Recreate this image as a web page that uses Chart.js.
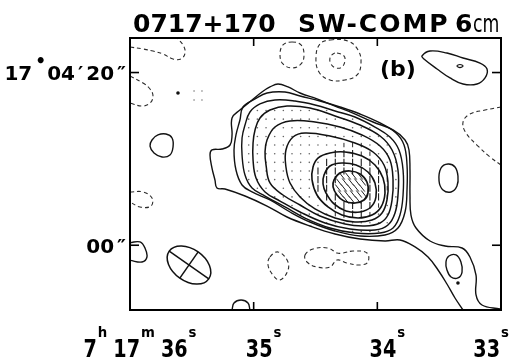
<!DOCTYPE html>
<html>
<head>
<meta charset="utf-8">
<title>0717+170 SW-COMP 6cm</title>
<script src="https://cdn.jsdelivr.net/npm/chart.js@4.4.1/dist/chart.umd.min.js"></script>
<style>
  html, body { margin: 0; padding: 0; background: #fff; }
  #box { width: 511px; height: 362px; }
  canvas { display: block; }
</style>
</head>
<body>
<div id="box"><canvas id="map" width="511" height="362"></canvas></div>
<script>
// x: right ascension, seconds of 7h17m (east to the left)
// y: declination offset in arcsec from 17°04'00"
const raRange = [33, 36];
const decRange = [-7.5, 24];
const raTicks = [36, 35, 34, 33];
const decTicks = [20, 0];
const raTickLabels = [
  [['7', 'n'], ['h', 's'], ['17', 'n'], ['m', 's'], ['36', 'n'], ['s', 's']],
  [['35', 'n'], ['s', 's']],
  [['34', 'n'], ['s', 's']],
  [['33', 'n'], ['s', 's']]
];
const decTickLabels = [
  [['17', 'y'], ['•', 'deg'], ['04', 'y'], ['′', 'y'], ['20', 'y'], ['″', 'y']],
  [['00', 'y'], ['″', 'y']]
];

// positive contours of the source, lowest level first
const level1 = [[33.307,-7.50],[33.372,-6.11],[33.437,-4.49],[33.509,-2.87],[33.590,-1.36],[33.695,-0.20],[33.817,0.61],[33.938,0.49],[34.140,0.72],[34.342,1.30],[34.545,2.23],[34.730,3.27],[34.892,4.54],[35.070,5.70],[35.232,6.51],[35.297,6.63],[35.313,7.56],[35.337,8.94],[35.353,10.45],[35.337,11.03],[35.256,11.14],[35.191,11.61],[35.175,12.77],[35.175,14.74],[35.111,15.66],[35.013,16.82],[34.933,17.75],[34.868,18.33],[34.803,18.67],[34.722,18.33],[34.625,17.63],[34.488,16.94],[34.342,16.12],[34.197,15.31],[34.035,14.27],[33.873,13.35],[33.776,12.19],[33.744,11.03],[33.736,8.71],[33.736,5.82],[33.728,3.50],[33.687,2.00],[33.574,0.49],[33.453,-0.09],[33.315,-0.32],[33.251,-1.36],[33.202,-3.45],[33.202,-5.76],[33.154,-6.92],[33.008,-7.38]];
const level2 = [[35.111,14.50],[35.086,16.01],[34.989,16.94],[34.892,17.63],[34.747,17.75],[34.625,17.28],[34.464,16.70],[34.302,16.01],[34.140,15.20],[33.978,14.16],[33.849,13.00],[33.784,11.61],[33.760,9.29],[33.760,6.40],[33.776,3.85],[33.833,2.00],[33.938,1.19],[34.140,1.07],[34.342,1.65],[34.545,2.69],[34.706,3.85],[34.868,5.24],[35.013,6.17],[35.094,6.98],[35.143,8.71],[35.159,11.03],[35.143,12.77]];
const level3 = [[35.070,13.92],[35.030,15.43],[34.949,16.36],[34.828,16.82],[34.666,16.70],[34.504,16.24],[34.342,15.55],[34.181,14.85],[34.019,13.69],[33.898,12.53],[33.825,11.03],[33.792,8.71],[33.792,5.82],[33.817,3.50],[33.873,2.00],[33.978,1.42],[34.181,1.42],[34.383,2.00],[34.585,3.15],[34.747,4.43],[34.908,5.70],[35.013,6.63],[35.070,8.13],[35.094,10.45],[35.094,12.42]];
const level4 = [[34.989,13.35],[34.949,14.74],[34.868,15.66],[34.730,16.12],[34.545,15.89],[34.342,14.97],[34.140,13.92],[33.978,12.65],[33.881,11.03],[33.833,8.71],[33.833,5.82],[33.857,3.73],[33.914,2.34],[34.019,1.77],[34.221,1.88],[34.423,2.58],[34.625,3.85],[34.787,5.12],[34.908,6.17],[34.981,7.79],[35.005,9.87],[35.005,11.84]];
const level5 = [[34.892,12.19],[34.828,13.69],[34.706,14.39],[34.504,14.27],[34.302,13.69],[34.124,12.77],[33.978,11.49],[33.898,9.87],[33.873,7.56],[33.881,5.24],[33.914,3.50],[33.978,2.58],[34.100,2.23],[34.262,2.46],[34.464,3.39],[34.625,4.66],[34.763,5.82],[34.868,7.21],[34.900,9.29],[34.908,10.80]];
const level6 = [[34.739,11.03],[34.682,12.53],[34.585,13.00],[34.383,12.65],[34.181,11.84],[34.035,10.80],[33.946,9.29],[33.914,7.32],[33.922,5.24],[33.962,3.73],[34.043,2.92],[34.181,2.69],[34.342,3.15],[34.504,4.20],[34.625,5.59],[34.706,7.21],[34.739,9.06]];
const level7 = [[34.520,9.06],[34.480,10.10],[34.383,10.68],[34.262,10.80],[34.124,10.33],[34.019,9.29],[33.954,7.79],[33.938,6.05],[33.970,4.43],[34.043,3.50],[34.156,3.15],[34.286,3.50],[34.399,4.43],[34.488,5.82],[34.528,7.56]];
const level8 = [[34.431,8.13],[34.383,9.18],[34.286,9.52],[34.172,9.29],[34.076,8.48],[34.019,7.21],[34.011,5.59],[34.051,4.43],[34.140,3.85],[34.253,3.97],[34.350,4.78],[34.415,6.05],[34.439,7.09]];
const level9 = [[34.350,7.56],[34.302,8.37],[34.221,8.60],[34.140,8.25],[34.084,7.32],[34.076,6.05],[34.108,5.24],[34.181,4.89],[34.270,5.12],[34.326,5.82],[34.358,6.75]];

// isolated positive islands
const tailIsland = [[33.421,-1.25],[33.364,-1.13],[33.324,-1.94],[33.315,-3.10],[33.348,-3.79],[33.404,-3.68],[33.437,-2.87],[33.445,-1.94]];
const eastIsland = [[33.485,8.94],[33.428,9.41],[33.372,9.06],[33.348,8.02],[33.356,6.86],[33.404,6.17],[33.469,6.40],[33.501,7.44]];
const northEastIsland = [[33.639,21.92],[33.574,22.49],[33.437,22.26],[33.307,21.68],[33.170,21.10],[33.113,20.41],[33.129,19.37],[33.194,18.67],[33.307,18.67],[33.412,19.37],[33.517,20.41],[33.623,21.57]];
const northEastPeak = [[33.356,20.76],[33.332,20.93],[33.307,20.76],[33.332,20.58]];
const westIsland = [[35.822,12.19],[35.774,12.77],[35.709,12.88],[35.660,12.42],[35.652,11.38],[35.677,10.45],[35.741,10.22],[35.806,10.68],[35.838,11.49]];
const westEdge = [[36.0,0.30],[35.919,0.38],[35.879,-0.32],[35.863,-1.36],[35.903,-1.94],[36.0,-1.75]];
const southEdge = [[35.175,-7.50],[35.159,-6.69],[35.102,-6.34],[35.046,-6.69],[35.030,-7.50]];

// negative contours (dashed)
const negNorthWest = [[36.0,22.96],[35.895,22.73],[35.814,22.49],[35.733,22.15],[35.652,21.57],[35.588,21.57],[35.555,22.26],[35.571,23.19],[35.620,24.0]];
const negWest1 = [[36.0,19.60],[35.895,18.79],[35.838,18.09],[35.814,17.28],[35.838,16.47],[35.903,16.12],[36.0,16.47]];
const negWest2 = [[36.0,6.17],[35.895,6.17],[35.822,5.47],[35.830,4.54],[35.919,4.43],[36.0,5.01]];
const negNorth1 = [[34.690,23.54],[34.617,23.19],[34.593,22.03],[34.617,20.99],[34.690,20.53],[34.763,20.99],[34.787,22.03],[34.763,23.19]];
const negNorth2 = [[34.383,23.77],[34.237,23.65],[34.156,22.61],[34.132,21.10],[34.164,19.72],[34.262,19.14],[34.383,19.14],[34.472,20.06],[34.496,21.80],[34.464,23.31]];
const negNorth3 = [[34.326,22.26],[34.270,21.92],[34.262,21.34],[34.286,20.64],[34.334,20.53],[34.375,20.99],[34.383,21.68],[34.358,22.15]];
const negSouth1 = [[34.868,-1.36],[34.803,-0.78],[34.730,-1.71],[34.722,-2.87],[34.787,-4.03],[34.844,-3.45],[34.884,-2.29]];
const negSouth2 = [[34.585,-1.13],[34.520,-0.43],[34.399,-0.32],[34.326,-0.90],[34.278,-0.90],[34.197,-0.67],[34.084,-0.90],[34.076,-1.94],[34.140,-2.29],[34.245,-2.06],[34.326,-1.71],[34.383,-2.52],[34.488,-2.52],[34.569,-1.94]];
const negEast = [[33.0,16.01],[33.129,15.66],[33.251,15.20],[33.307,14.27],[33.283,13.00],[33.186,11.49],[33.089,10.22],[33.0,9.29]];

// polarization vectors on a 1" grid: '.' weak, 'i' medium, '|' strong (N-S)
const gridRA = [35.11,35.04,34.97,34.90,34.83,34.76,34.69,34.62,34.55,34.48,34.41,34.34,34.27,34.20,34.13,34.06,33.99,33.92,33.85];
const gridDec = [15.6,14.6,13.6,12.6,11.6,10.6,9.6,8.6,7.6,6.6,5.6,4.6,3.6,2.6,1.6];
const vectorMap = [
  "  .........        ",
  " .............     ",
  " ...............   ",
  " ................. ",
  " ...........iii... ",
  " ..........|||ii...",
  " .........||||||i..",
  " ........||||||||i.",
  " ........|||   ||i.",
  "  .......||    ||i.",
  "    ......||   ||i.",
  "      .....|||||i..",
  "       ....i|||i.. ",
  "          ........ ",
  "             ....  "
];
const strayDots = [[35.482,17.86],[35.418,17.86],[35.482,16.82],[35.418,16.82]];
const spots = [[35.612,17.63],[33.348,-4.37]];
// hatching inside the highest contour
const hatchMarks = [
  [34.286,8.02],[34.237,8.02],[34.189,8.02],[34.140,8.02],
  [34.310,7.32],[34.262,7.32],[34.213,7.32],[34.164,7.32],[34.116,7.32],
  [34.318,6.63],[34.270,6.63],[34.221,6.63],[34.172,6.63],[34.124,6.63],
  [34.294,5.93],[34.245,5.93],[34.197,5.93],[34.148,5.93],[34.108,5.93],
  [34.253,5.24],[34.205,5.24],[34.156,5.24]
];
// restoring beam: centre, FWHM axes in arcsec, position angle in degrees
const beamCentre = [35.523, -2.29];
const beamAxes = [5.6, 3.7];
const beamPA = 55;

const toXY = arr => arr.map(([x, y]) => ({ x, y }));

function contour(arr, closed, dashed, width) {
  return {
    data: toXY(arr), closed: closed, showLine: true, fill: false,
    borderColor: dashed ? '#2b2b2b' : '#121212',
    borderWidth: dashed ? 1.1 : (width || 1.4),
    borderDash: dashed ? [4, 3] : [],
    pointRadius: 0, pointHoverRadius: 0, tension: 0.4
  };
}
function marks(arr, style, radius, rotation, width, color) {
  return {
    data: toXY(arr), showLine: false, closed: false,
    pointStyle: style, pointRadius: radius, pointHoverRadius: radius,
    pointRotation: rotation, pointBorderWidth: width,
    pointBorderColor: color, pointBackgroundColor: color
  };
}

const vecLong = [], vecShort = [], vecDot = [];
vectorMap.forEach((row, r) => {
  [...row.padEnd(gridRA.length)].forEach((ch, c) => {
    const p = [gridRA[c], gridDec[r]];
    if (ch === '|') vecLong.push(p);
    else if (ch === 'i') vecShort.push(p);
    else if (ch === '.') vecDot.push(p);
  });
});

const datasets = [
  contour(level1, false, false, 1.4),
  contour(level2, true, false, 1.4),
  contour(level3, true, false, 1.4),
  contour(level4, true, false, 1.5),
  contour(level5, true, false, 1.5),
  contour(level6, true, false, 1.5),
  contour(level7, true, false, 1.6),
  contour(level8, true, false, 1.6),
  contour(level9, true, false, 1.7),
  contour(tailIsland, true, false),
  contour(eastIsland, true, false),
  contour(northEastIsland, true, false),
  contour(northEastPeak, true, false, 1.2),
  contour(westIsland, true, false),
  contour(westEdge, false, false),
  contour(southEdge, false, false),
  contour(negNorthWest, false, true),
  contour(negWest1, false, true),
  contour(negWest2, false, true),
  contour(negNorth1, true, true),
  contour(negNorth2, true, true),
  contour(negNorth3, true, true),
  contour(negSouth1, true, true),
  contour(negSouth2, true, true),
  contour(negEast, false, true),
  marks(vecLong, 'line', 3.6, 90, 1.1, '#1e1e1e'),
  marks(vecShort, 'line', 2.2, 90, 1.0, '#2a2a2a'),
  marks(vecDot, 'circle', 0.8, 0, 0, '#666'),
  marks(strayDots, 'circle', 0.8, 0, 0, '#777'),
  marks(spots, 'circle', 1.8, 0, 0, '#111'),
  marks(hatchMarks, 'line', 4.5, 52, 1.0, '#222')
];

const family = '"DejaVu Sans", sans-serif';
const pieceStyles = {
  n:   { font: 'bold 24px ' + family, sx: 0.8, dy: 0 },
  s:   { font: 'bold 14px ' + family, sx: 0.95, dy: -20 },
  y:   { font: 'bold 20px ' + family, sx: 1, dy: 0 },
  deg: { font: 'bold 17px ' + family, sx: 1, dy: -13 }
};
function pieceWidth(ctx, text, st) { ctx.font = st.font; return ctx.measureText(text).width * st.sx; }
function drawPiece(ctx, text, st, x, base) {
  ctx.save();
  ctx.font = st.font;
  ctx.translate(x, base + st.dy);
  ctx.scale(st.sx, 1);
  ctx.fillText(text, 0, 0);
  ctx.restore();
}
function layoutPieces(ctx, pieces, gapAfterSup) {
  let w = 0;
  const out = pieces.map(([t, k], i) => {
    const st = pieceStyles[k];
    const pw = pieceWidth(ctx, t, st);
    const item = { t, st, x: w, w: pw };
    w += pw;
    if (i < pieces.length - 1) w += (k === 's' && gapAfterSup) ? 6 : (k === 'n' ? 1 : (k === 'deg' ? 1 : 3));
    return item;
  });
  return { items: out, width: w };
}

const mapDecor = {
  id: 'mapDecor',
  afterDatasetsUpdate(chart) {
    chart.data.datasets.forEach((ds, i) => {
      const line = chart.getDatasetMeta(i).dataset;
      if (ds.closed && line) {
        line._loop = true;
        line._fullLoop = true;
        line._pointsUpdated = false;
        line._segments = undefined;
        line._path = undefined;
      }
    });
  },
  afterDatasetsDraw(chart) {
    const { ctx, chartArea: a, scales: { x, y } } = chart;
    const seg = (x1, y1, x2, y2) => { ctx.beginPath(); ctx.moveTo(x1, y1); ctx.lineTo(x2, y2); ctx.stroke(); };

    // beam ellipse with its axes
    const cx = x.getPixelForValue(beamCentre[0]);
    const cy = y.getPixelForValue(beamCentre[1]);
    const secPerArcsec = 1 / (15 * Math.cos((17 + 4 / 60) * Math.PI / 180));
    const pxPerArcsecX = Math.abs(x.getPixelForValue(beamCentre[0] - secPerArcsec) - cx);
    const pxPerArcsecY = Math.abs(y.getPixelForValue(beamCentre[1] + 1) - cy);
    const pxPerArcsec = (pxPerArcsecX + pxPerArcsecY) / 2;
    const ra = beamAxes[0] / 2 * pxPerArcsec, rb = beamAxes[1] / 2 * pxPerArcsec;
    const pa = beamPA * Math.PI / 180;
    const ux = -Math.sin(pa), uy = -Math.cos(pa);
    const rot = Math.atan2(uy, ux);
    ctx.save();
    ctx.strokeStyle = '#111';
    ctx.lineWidth = 1.5;
    ctx.beginPath();
    ctx.ellipse(cx, cy, ra, rb, rot, 0, Math.PI * 2);
    ctx.stroke();
    seg(cx - ux * ra, cy - uy * ra, cx + ux * ra, cy + uy * ra);
    seg(cx + uy * rb, cy - ux * rb, cx - uy * rb, cy + ux * rb);
    ctx.restore();

    // frame and inward ticks
    ctx.save();
    ctx.strokeStyle = '#000';
    ctx.lineWidth = 2;
    ctx.strokeRect(a.left, a.top, a.right - a.left, a.bottom - a.top);
    ctx.lineWidth = 1.6;
    raTicks.forEach(v => {
      const px = x.getPixelForValue(v);
      seg(px, a.top, px, a.top + 8);
      seg(px, a.bottom, px, a.bottom - 8);
    });
    decTicks.forEach(v => {
      const py = y.getPixelForValue(v);
      seg(a.left, py, a.left + 9, py);
      seg(a.right, py, a.right - 9, py);
    });
    ctx.restore();
  },
  afterDraw(chart) {
    const { ctx, chartArea: a, scales: { x, y } } = chart;
    ctx.save();
    ctx.fillStyle = '#000';
    ctx.textAlign = 'left';
    ctx.textBaseline = 'alphabetic';

    // title
    ctx.font = 'bold 25px ' + family;
    ctx.fillText('0717+170', 133, 32);
    try { ctx.letterSpacing = '2px'; } catch (e) {}
    ctx.fillText('SW-COMP', 298, 32);
    try { ctx.letterSpacing = '0px'; } catch (e) {}
    ctx.fillText('6', 455, 32);
    ctx.save();
    ctx.font = '24px ' + family;
    ctx.translate(473, 32);
    ctx.scale(0.72, 1);
    ctx.fillText('cm', 0, 0);
    ctx.restore();

    // panel tag
    ctx.font = 'bold 22px ' + family;
    ctx.fillText('(b)', 380, 76);

    // right ascension labels
    const base = a.bottom + 47;
    raTicks.forEach((v, i) => {
      const lay = layoutPieces(ctx, raTickLabels[i], true);
      let left = x.getPixelForValue(v) + 10 - lay.width / 2;
      if (left + lay.width > chart.width - 2) left = chart.width - 2 - lay.width;
      lay.items.forEach(it => drawPiece(ctx, it.t, it.st, left + it.x, base));
    });

    // declination labels
    decTicks.forEach((v, i) => {
      const lay = layoutPieces(ctx, decTickLabels[i], false);
      const right = a.left - 4;
      const b = y.getPixelForValue(v) + 7.5;
      lay.items.forEach(it => drawPiece(ctx, it.t, it.st, right - lay.width + it.x, b));
    });
    ctx.restore();
  }
};

new Chart(document.getElementById('map'), {
  type: 'line',
  data: { datasets },
  options: {
    responsive: false,
    animation: false,
    devicePixelRatio: 1,
    layout: { padding: { left: 130, top: 38, right: 10, bottom: 52 } },
    scales: {
      x: { type: 'linear', min: raRange[0], max: raRange[1], reverse: true, display: false },
      y: { type: 'linear', min: decRange[0], max: decRange[1], display: false }
    },
    plugins: { legend: { display: false }, tooltip: { enabled: false }, title: { display: false } },
    events: []
  },
  plugins: [mapDecor]
});
</script>
</body>
</html>
